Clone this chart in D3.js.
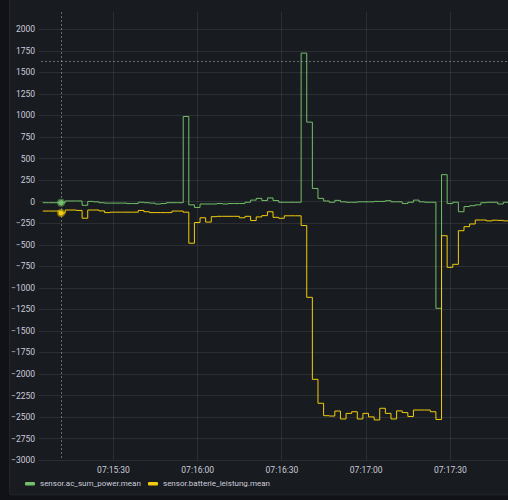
<!DOCTYPE html>
<html>
<head>
<meta charset="utf-8">
<script src="https://cdn.jsdelivr.net/npm/d3@7"></script>
<style>
  html, body { margin: 0; padding: 0; background: #111217; }
  svg { display: block; }
  .tick text { font-family: Roboto, "Noto Sans", sans-serif; font-size: 8.5px; fill: #ccccdc; }
  .legend text { font-family: Roboto, "Noto Sans", sans-serif; font-size: 8px; fill: #ccccdc; }
</style>
</head>
<body>
<div id="chart"></div>
<script>
// samples every 2 s, first one at 07:15:05
const startTime = new Date(2023, 0, 1, 7, 15, 5)
const stepSeconds = 2

const seriesNames = ['sensor.ac_sum_power.mean', 'sensor.batterie_leistung.mean']
const seriesColors = ['#73bf69', '#f2cc0c']

const acSumPower = [
  -15, -15, -15, -15, 5, 5, 5, -45, 0, -5,
  -15, -20, -20, -20, -20, -25, -25, -10, -15, -20,
  -30, -25, -15, -15, -15, 985, -40, -70, -30, -30,
  -30, -25, -30, -25, -25, -25, -10, 15, 35, 10,
  40, 10, -10, -10, -10, -10, 1720, 920, 150, 35,
  5, -10, 12, -5, -10, -10, -5, -5, -5, 0,
  0, 8, -5, -5, -25, -10, 15, -5, -10, -10,
  -1240, 310, -25, -10, -120, -60, -50, -40, -15, -10,
  -10, -30, -10, -10
]

const batterieLeistung = [
  -112, -112, -112, -135, -100, -100, -105, -195, -100, -100,
  -110, -130, -125, -125, -125, -125, -125, -105, -120, -130,
  -130, -130, -130, -112, -112, -125, -485, -245, -190, -240,
  -177, -173, -173, -173, -173, -190, -173, -222, -180, -165,
  -120, -185, -196, -167, -167, -167, -280, -1113, -2064, -2342,
  -2486, -2490, -2432, -2524, -2459, -2440, -2524, -2459, -2500, -2535,
  -2400, -2459, -2524, -2430, -2450, -2495, -2420, -2420, -2420, -2440,
  -2530, -398, -765, -730, -340, -293, -262, -216, -216, -226,
  -218, -220, -226, -226
]

const yTicks = [2000, 1750, 1500, 1250, 1000, 750, 500, 250, 0, -250, -500, -750, -1000,
  -1250, -1500, -1750, -2000, -2250, -2500, -2750, -3000]

// hover state of the screenshot
const hoverTime = new Date(2023, 0, 1, 7, 15, 11, 500)
const hoverValue = 1630

const width = 508
const height = 500
const plot = { left: 39, right: 508, top: 12, bottom: 460 }

const svg = d3.select('#chart').append('svg')
  .attr('width', width)
  .attr('height', height)

// panel
svg.append('rect')
  .attr('x', 9.5).attr('y', -10)
  .attr('width', 520).attr('height', 505)
  .attr('rx', 2)
  .attr('fill', '#181b1f')
  .attr('stroke', 'rgba(204,204,220,0.08)')

const toDate = i => new Date(startTime.getTime() + i * stepSeconds * 1000)

// Scales
const x = d3.scaleTime()
  .domain([new Date(2023, 0, 1, 7, 15, 3, 650), new Date(2023, 0, 1, 7, 17, 50, 670)])
  .range([plot.left, plot.right])

const y = d3.scaleLinear()
  .domain([-3000, 2000])
  .range([460, 29])

// grid
const xTicks = x.ticks(d3.timeSecond.every(30))

svg.append('g')
  .selectAll('line')
  .data(yTicks)
  .join('line')
  .attr('x1', plot.left).attr('x2', plot.right)
  .attr('y1', d => Math.round(y(d)) + 0.5).attr('y2', d => Math.round(y(d)) + 0.5)
  .attr('stroke', 'rgba(240,250,255,0.09)')

svg.append('g')
  .selectAll('line')
  .data(xTicks)
  .join('line')
  .attr('x1', d => Math.round(x(d)) + 0.5).attr('x2', d => Math.round(x(d)) + 0.5)
  .attr('y1', plot.top).attr('y2', plot.bottom)
  .attr('stroke', 'rgba(240,250,255,0.09)')

// axes
const yAxis = svg.append('g')
  .attr('transform', 'translate(' + plot.left + ',0)')
  .call(d3.axisLeft(y).tickValues(yTicks).tickFormat(d3.format('d')).tickSize(0).tickPadding(4))
yAxis.select('.domain').remove()

const xAxis = svg.append('g')
  .attr('transform', 'translate(0,' + plot.bottom + ')')
  .call(d3.axisBottom(x).tickValues(xTicks).tickFormat(d3.timeFormat('%H:%M:%S')).tickSize(0).tickPadding(7))
xAxis.select('.domain').remove()

// clip
svg.append('clipPath').attr('id', 'clip')
  .append('rect')
  .attr('x', plot.left).attr('y', plot.top)
  .attr('width', plot.right - plot.left).attr('height', plot.bottom - plot.top)

const line = d3.line()
  .x((d, i) => x(toDate(i)))
  .y(d => y(d))
  .curve(d3.curveStepAfter)

const lines = svg.append('g').attr('clip-path', 'url(#clip)')
;[acSumPower, batterieLeistung].forEach((series, k) => {
  lines.append('path')
    .datum(series)
    .attr('d', line)
    .attr('fill', 'none')
    .attr('stroke', seriesColors[k])
    .attr('stroke-width', 1)
})

// crosshair
svg.append('line')
  .attr('x1', Math.round(x(hoverTime)) + 0.5).attr('x2', Math.round(x(hoverTime)) + 0.5)
  .attr('y1', plot.top).attr('y2', plot.bottom)
  .attr('stroke', 'rgba(204,204,220,0.45)')
  .attr('stroke-dasharray', '2,2')

svg.append('line')
  .attr('x1', plot.left + 2).attr('x2', plot.right)
  .attr('y1', Math.round(y(hoverValue)) + 0.5).attr('y2', Math.round(y(hoverValue)) + 0.5)
  .attr('stroke', 'rgba(204,204,220,0.45)')
  .attr('stroke-dasharray', '2,2')

// hover points (sample that covers the hover time)
const hoverIndex = Math.floor((hoverTime - startTime) / 1000 / stepSeconds)
;[acSumPower, batterieLeistung].forEach((series, k) => {
  svg.append('circle')
    .attr('cx', x(hoverTime))
    .attr('cy', y(series[hoverIndex]))
    .attr('r', 4)
    .attr('fill', seriesColors[k])
    .attr('fill-opacity', 0.5)
  svg.append('circle')
    .attr('cx', x(hoverTime))
    .attr('cy', y(series[hoverIndex]))
    .attr('r', 2.5)
    .attr('fill', seriesColors[k])
})

// legend
const legend = svg.append('g').attr('class', 'legend')
const legendX = [25, 148]
seriesNames.forEach((name, k) => {
  legend.append('rect')
    .attr('x', legendX[k]).attr('y', 482)
    .attr('width', 10).attr('height', 3.5)
    .attr('rx', 1)
    .attr('fill', seriesColors[k])
  legend.append('text')
    .attr('x', legendX[k] + 15).attr('y', 483.5)
    .attr('dy', '0.35em')
    .text(name)
})
</script>
</body>
</html>
